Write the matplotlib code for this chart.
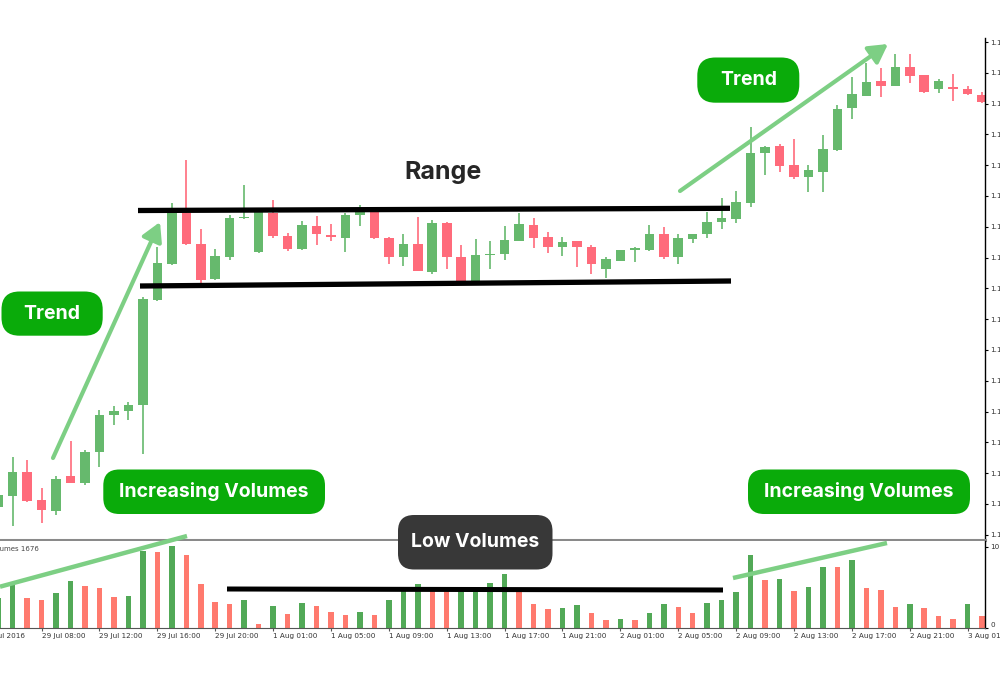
import numpy as np
import matplotlib
matplotlib.use('Agg')
import matplotlib.pyplot as plt
from matplotlib.patches import FancyBboxPatch


# EURUSD H1, bar 0 = 29 Jul 08:00 (bars -3 .. 65 are on screen)
bar_idx = np.arange(-3, 66)

opens = [1.10890, 1.10927, 1.11002, 1.10912, 1.10878, 1.10990, 1.10969, 1.11069, 1.11188, 1.11201,
         1.11220, 1.11562, 1.11678, 1.11844, 1.11744, 1.11630, 1.11702, 1.11827, 1.11717, 1.11845,
         1.11770, 1.11727, 1.11804, 1.11773, 1.11765, 1.11838, 1.11847, 1.11765, 1.11702, 1.11744,
         1.11654, 1.11813, 1.11702, 1.11621, 1.11707, 1.11710, 1.11755, 1.11805, 1.11768, 1.11733,
         1.11753, 1.11733, 1.11663, 1.11690, 1.11724, 1.11724, 1.11776, 1.11701, 1.11761, 1.11776,
         1.11814, 1.11825, 1.11878, 1.12038, 1.12062, 1.12000, 1.11962, 1.11979, 1.12049, 1.12186,
         1.12225, 1.12273, 1.12258, 1.12320, 1.12293, 1.12247, 1.12255, 1.12247, 1.12228]
highs = [1.10938, 1.11053, 1.11042, 1.10953, 1.10991, 1.11104, 1.11075, 1.11205, 1.11218, 1.11230,
         1.11572, 1.11735, 1.11876, 1.12016, 1.11792, 1.11727, 1.11838, 1.11935, 1.11854, 1.11887,
         1.11780, 1.11819, 1.11835, 1.11809, 1.11844, 1.11870, 1.11854, 1.11766, 1.11778, 1.11831,
         1.11822, 1.11815, 1.11741, 1.11759, 1.11755, 1.11802, 1.11844, 1.11829, 1.11784, 1.11768,
         1.11755, 1.11741, 1.11702, 1.11726, 1.11735, 1.11805, 1.11800, 1.11776, 1.11778, 1.11848,
         1.11895, 1.11916, 1.12123, 1.12062, 1.12069, 1.12085, 1.12000, 1.12098, 1.12195, 1.12285,
         1.12331, 1.12314, 1.12361, 1.12361, 1.12294, 1.12279, 1.12296, 1.12257, 1.12238]
lows = [1.10880, 1.10828, 1.10907, 1.10839, 1.10864, 1.10967, 1.10961, 1.11021, 1.11156, 1.11172,
        1.11062, 1.11560, 1.11677, 1.11742, 1.11618, 1.11627, 1.11692, 1.11826, 1.11715, 1.11765,
        1.11720, 1.11724, 1.11741, 1.11754, 1.11719, 1.11803, 1.11761, 1.11678, 1.11672, 1.11656,
        1.11646, 1.11662, 1.11620, 1.11620, 1.11662, 1.11692, 1.11753, 1.11732, 1.11715, 1.11705,
        1.11668, 1.11646, 1.11632, 1.11689, 1.11686, 1.11721, 1.11694, 1.11679, 1.11746, 1.11765,
        1.11792, 1.11811, 1.11865, 1.11968, 1.11979, 1.11954, 1.11914, 1.11914, 1.12047, 1.12149,
        1.12224, 1.12220, 1.12257, 1.12266, 1.12233, 1.12233, 1.12208, 1.12228, 1.12202]
closes = [1.10929, 1.11002, 1.10909, 1.10880, 1.10980, 1.10969, 1.11068, 1.11188, 1.11202, 1.11221,
          1.11564, 1.11682, 1.11844, 1.11745, 1.11627, 1.11705, 1.11829, 1.11832, 1.11848, 1.11770,
          1.11727, 1.11805, 1.11776, 1.11766, 1.11838, 1.11847, 1.11762, 1.11702, 1.11744, 1.11657,
          1.11813, 1.11701, 1.11621, 1.11708, 1.11711, 1.11757, 1.11809, 1.11762, 1.11733, 1.11750,
          1.11733, 1.11678, 1.11694, 1.11724, 1.11730, 1.11778, 1.11702, 1.11762, 1.11776, 1.11815,
          1.11829, 1.11882, 1.12038, 1.12060, 1.11998, 1.11962, 1.11984, 1.12054, 1.12184, 1.12231,
          1.12271, 1.12258, 1.12320, 1.12290, 1.12238, 1.12274, 1.12247, 1.12230, 1.12206]
volumes = [37, 54, 37, 34, 43, 58, 52, 49, 38, 40, 96, 94, 102, 91, 55, 32, 30, 35, 5, 27,
           17, 31, 27, 20, 16, 19, 16, 35, 47, 54, 47, 46, 48, 51, 56, 67, 45, 30, 23, 24,
           28, 18, 10, 11, 9, 18, 30, 26, 18, 31, 35, 45, 91, 60, 61, 46, 51, 76, 75, 84,
           50, 47, 26, 30, 24, 15, 11, 30, 15]

tick_bars = [0, 4, 8, 12, 16, 20, 24, 28, 32, 36, 40, 44, 48, 52, 56, 60, 64]
tick_labels = ['29 Jul 08:00', '29 Jul 12:00', '29 Jul 16:00', '29 Jul 20:00',
               '1 Aug 01:00', '1 Aug 05:00', '1 Aug 09:00', '1 Aug 13:00',
               '1 Aug 17:00', '1 Aug 21:00', '2 Aug 01:00', '2 Aug 05:00',
               '2 Aug 09:00', '2 Aug 13:00', '2 Aug 17:00', '2 Aug 21:00', '3 Aug 01:00']
first_label = '29 Jul 2016'
price_ticks = np.arange(1.1080, 1.12405, 0.0010)

GREEN = '#66b96d'
RED = '#ff6b7b'
VGREEN = '#52a957'
VRED = '#ff7a6e'
LGREEN = '#7dcf84'
BOXGREEN = '#0aab0a'
TICKFS = 5.2
W, H = 1000, 689


def frac(x0, y0, x1, y1):
    # pixel box -> figure fraction
    return [x0 / W, 1 - y1 / H, (x1 - x0) / W, (y1 - y0) / H]


fig = plt.figure(figsize=(10, 6.89), dpi=100)
fig.patch.set_facecolor('white')

ax = fig.add_axes(frac(0, 38, 985, 540))
vax = fig.add_axes(frac(0, 541, 985, 628))

# candles
o = np.array(opens)
c = np.array(closes)
col = np.where(c >= o, GREEN, RED)
body = np.maximum(np.abs(c - o), 0.00004)
ax.vlines(bar_idx, lows, highs, colors=col, lw=1.2)
ax.bar(bar_idx, body, bottom=np.minimum(o, c), width=0.66, color=col)

ax.set_xlim(-2.875, 65.2)
ax.set_ylim(1.107827, 1.12413)
ax.set_xticks([])
ax.yaxis.tick_right()
ax.set_yticks(price_ticks)
ax.set_yticklabels([f'{p:.5f}' for p in price_ticks])
ax.tick_params(axis='y', direction='out', length=2.2, width=0.8, labelsize=TICKFS,
               pad=1.5, labelcolor='#333333')
for s in ['top', 'left']:
    ax.spines[s].set_visible(False)
ax.spines['right'].set_linewidth(1)
ax.spines['bottom'].set_color('#8a8a8a')
ax.spines['bottom'].set_linewidth(2.2)

# volumes, coloured by up/down vs previous bar
vcol = [VGREEN if i == 0 or volumes[i] > volumes[i - 1] else VRED for i in range(len(volumes))]
vax.bar(bar_idx, volumes, width=0.38, color=vcol)
vax.set_xlim(-2.875, 65.2)
vax.set_ylim(-0.4, 108)
vax.yaxis.tick_right()
vax.set_yticks([0, 101])
vax.set_yticklabels(['0', '101'])
vax.get_yticklabels()[0].set_va('bottom')
vax.tick_params(axis='y', direction='out', length=2.2, width=0.8, labelsize=TICKFS,
                pad=1.5, labelcolor='#333333')
vax.set_xticks(tick_bars)
vax.set_xticklabels(tick_labels, ha='left')
vax.tick_params(axis='x', direction='out', length=2.2, width=0.8, labelsize=TICKFS,
                pad=1.5, labelcolor='#333333', color='#555555')
for s in ['top', 'left']:
    vax.spines[s].set_visible(False)
vax.spines['bottom'].set_color('#555555')
vax.spines['right'].set_linewidth(1)
vax.annotate(first_label, xy=(-4, 0), xycoords=('data', 'axes fraction'),
             xytext=(0, -3.7), textcoords='offset points', ha='left', va='top',
             fontsize=TICKFS, color='#333333', annotation_clip=False)
vax.text(-3.64, 0.905, 'Volumes 1676', transform=vax.get_xaxis_transform(),
         fontsize=5, color='#444444', va='center', ha='left', clip_on=False)

# overlay in pixel coordinates for the annotations
ov = fig.add_axes([0, 0, 1, 1])
ov.set_xlim(0, W)
ov.set_ylim(H, 0)
ov.axis('off')
ov.patch.set_alpha(0)

# range lines
ov.plot([138, 730], [210.5, 208.3], color='black', lw=3.8, solid_capstyle='butt')
ov.plot([140, 731], [286, 281], color='black', lw=3.8, solid_capstyle='butt')
ov.plot([227, 723], [589, 590], color='black', lw=3.6, solid_capstyle='butt')

# trend arrows and volume lines
arrow = dict(arrowstyle='-|>,head_length=0.8,head_width=0.45', color=LGREEN, lw=3,
             mutation_scale=14, shrinkA=0, shrinkB=0)
ov.annotate('', xy=(160, 222), xytext=(53, 458), arrowprops=arrow)
ov.annotate('', xy=(888, 44), xytext=(680, 191), arrowprops=arrow)
ov.plot([0, 187], [586.7, 536], color=LGREEN, lw=3.2, solid_capstyle='butt')
ov.plot([733, 887], [578, 543], color=LGREEN, lw=3.2, solid_capstyle='butt')

ov.text(443, 173, 'Range', fontsize=18, fontweight='bold', color='#262626',
        ha='center', va='center', family=['Inter', 'DejaVu Sans'])


def label_box(x0, y0, x1, y1, text, fc, r):
    ov.add_patch(FancyBboxPatch((x0, y0), x1 - x0, y1 - y0,
                                boxstyle=f'round,pad=0,rounding_size={r}', fc=fc, ec='none'))
    ov.text((x0 + x1) / 2, (y0 + y1) / 2, text, fontsize=14, fontweight='bold',
            color='white', ha='center', va='center', family=['Inter', 'DejaVu Sans'])


label_box(1.5, 291.5, 102.7, 335.7, 'Trend', BOXGREEN, 18)
label_box(103.3, 469.5, 325, 514, 'Increasing Volumes', BOXGREEN, 16)
label_box(697.3, 57.5, 799.3, 102.7, 'Trend', BOXGREEN, 18)
label_box(748, 469.5, 970, 514, 'Increasing Volumes', BOXGREEN, 16)
label_box(398, 515, 552.5, 569.5, 'Low Volumes', '#383838', 16)

fig.savefig('out.png', dpi=100, facecolor='white')
